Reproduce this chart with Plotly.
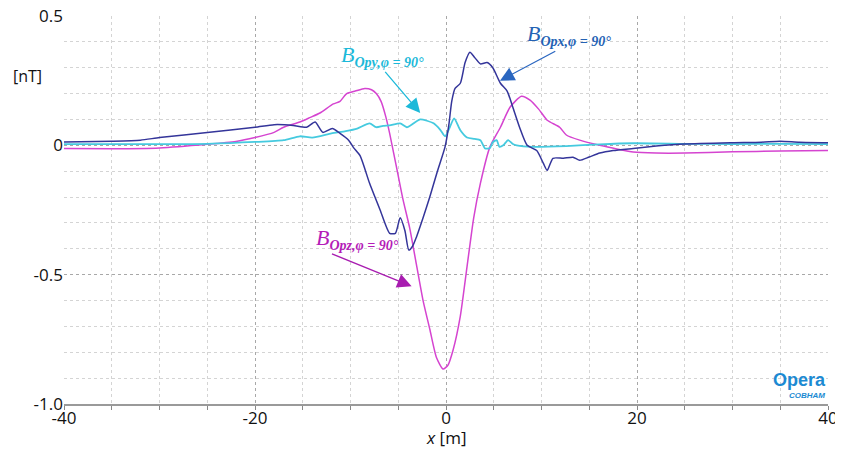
import plotly.graph_objects as go

# B_Opx (navy)
opx_x = [-40, -35, -32, -30, -25, -20, -18, -16, -14.6, -13.7, -12.9, -11.9, -11.1, -10.2, -9.7, -9.0, -8.0, -6.9,
         -5.9, -5.3, -4.8, -4.3, -3.9, -3.5, -3.1, -2.4, -1.7, -0.9, -0.1, 0.3, 0.6, 0.95, 1.5, 2.0, 2.5, 3.0,
         3.6, 4.3, 4.9, 5.7, 6.4, 7.0, 7.7, 8.5, 9.5, 10.2, 10.6, 11.2, 12.3, 13.3, 14.0, 15.0, 16.1, 17.5,
         19.6, 22, 25, 30, 33, 35, 37, 40]
opx_y = [0.013, 0.016, 0.02, 0.03, 0.05, 0.07, 0.08, 0.077, 0.07, 0.09, 0.05, 0.065, 0.046, 0.02, -0.008, -0.04,
         -0.147, -0.25, -0.34, -0.34, -0.28, -0.33, -0.405, -0.39, -0.355, -0.28, -0.2, -0.1, -0.006, 0.08, 0.17,
         0.22, 0.24, 0.32, 0.36, 0.34, 0.315, 0.32, 0.30, 0.24, 0.21, 0.147, 0.07, 0.0, -0.02, -0.07, -0.097,
         -0.05, -0.05, -0.046, -0.058, -0.045, -0.03, -0.02, -0.012, -0.003, 0.005, 0.01, 0.012, 0.016, 0.012, 0.01]

# B_Opz (magenta)
opz_x = [-40, -35, -30, -25, -22, -20, -18, -17, -15.3, -14.2, -13.2, -11.8, -11.1, -10.4, -9.5, -8.5, -7.8,
         -7.3, -6.8, -6.3, -5.9, -5.1, -4.5, -3.8, -3.1, -2.4, -1.7, -1.0, -0.3, 0.2, 0.75, 1.5, 2.2, 2.9, 3.6,
         4.6, 5.7, 6.7, 7.9, 8.8, 9.7, 10.6, 11.9, 12.6, 14.0, 16.1, 18, 19.6, 22, 25, 30, 35, 40]
opz_y = [-0.012, -0.013, -0.01, 0.004, 0.015, 0.03, 0.05, 0.07, 0.09, 0.108, 0.125, 0.16, 0.17, 0.2, 0.21, 0.22,
         0.215, 0.2, 0.17, 0.11, 0.046, -0.1, -0.21, -0.32, -0.46, -0.6, -0.71, -0.82, -0.865, -0.85, -0.79,
         -0.66, -0.47, -0.28, -0.147, -0.006, 0.07, 0.147, 0.19, 0.175, 0.14, 0.097, 0.07, 0.04, 0.02, 0.0,
         -0.015, -0.026, -0.03, -0.03, -0.025, -0.022, -0.02]

# B_Opy (cyan)
opy_x = [-40, -30, -25, -20, -17, -15.3, -14, -12, -10.5, -9.3, -8.0, -7.3, -6.6, -5.9, -4.8, -4.1, -3.4, -2.7,
         -2.0, -1.3, -0.6, -0.1, 0.4, 0.85, 1.5, 2.2, 3.0, 3.6, 4.1, 4.6, 4.9, 5.3, 5.6, 6.0, 6.5, 7.0, 7.4,
         9.1, 12.6, 16.1, 19.6, 25, 30, 35, 40]
opy_y = [0.005, 0.005, 0.006, 0.013, 0.02, 0.035, 0.03, 0.046, 0.055, 0.065, 0.085, 0.07, 0.075, 0.077, 0.085,
         0.07, 0.085, 0.1, 0.095, 0.085, 0.06, 0.035, 0.07, 0.104, 0.058, 0.03, 0.025, 0.02, -0.012, -0.01,
         0.012, 0.02, -0.006, 0.0, 0.02, 0.005, 0.0, -0.006, -0.003, 0.004, 0.008, 0.006, 0.005, 0.006, 0.005]

x_ticks = [-40, -20, 0, 20, 40]
y_ticks = [0.5, 0, -0.5, -1.0]
y_tick_labels = ["0.5", "0", "-0.5", "-1.0"]

C_NAVY = "#34359a"
C_MAG = "#d544d0"
C_CYAN = "#45cadf"

fig = go.Figure()
fig.add_trace(go.Scatter(x=opz_x, y=opz_y, mode="lines", line=dict(color=C_MAG, width=1.5, shape="spline", smoothing=0.6)))
fig.add_trace(go.Scatter(x=opy_x, y=opy_y, mode="lines", line=dict(color=C_CYAN, width=1.8, shape="spline", smoothing=0.6)))
fig.add_trace(go.Scatter(x=opx_x, y=opx_y, mode="lines", line=dict(color=C_NAVY, width=1.5, shape="spline", smoothing=0.6)))

serif = "Liberation Serif"

def label(x, y, name, color):
    fig.add_annotation(x=x, y=y, xref="x", yref="y", showarrow=False,
                       text="<i>B</i><sub><b><i><span style='font-size:14px'>" + name + ",φ = 90°</span></i></b></sub>",
                       font=dict(family=serif, size=22, color=color))

def arrow(hx, hy, tx, ty, color):
    fig.add_annotation(x=hx, y=hy, ax=tx, ay=ty, xref="x", yref="y", axref="x", ayref="y",
                       text="", showarrow=True, arrowhead=2, arrowsize=2.2, arrowwidth=1.3,
                       arrowcolor=color)

label(12.9, 0.425, "Opx", "#2462b4")
arrow(5.65, 0.25, 11.6, 0.367, "#2a66c0")
label(-6.7, 0.347, "Opy", "#1cb9d9")
arrow(-2.7, 0.125, -6.5, 0.29, "#1cb9d9")
label(-9.3, -0.363, "Opz", "#b41cb8")
arrow(-3.6, -0.545, -12.1, -0.417, "#a81cb0")

fig.add_annotation(x=-0.048, y=0.878, xref="paper", yref="paper", text="[nT]", showarrow=False,
                   font=dict(family="Open Sans", size=16, color="#111"), xanchor="center")
fig.add_annotation(x=0.5, y=-0.087, xref="paper", yref="paper", text="<i>x</i> [m]", showarrow=False,
                   yanchor="middle", font=dict(family="Open Sans", size=17, color="#111"))
fig.add_annotation(x=1.0, y=0.032, xref="paper", yref="paper", text="<b>Opera</b>", showarrow=False,
                   xanchor="right", yanchor="bottom", font=dict(family="Liberation Sans", size=18, color="#1c8ad2"))
fig.add_annotation(x=0.999, y=0.004, xref="paper", yref="paper", text="<b><i>COBHAM</i></b>", showarrow=False,
                   xanchor="right", yanchor="bottom", font=dict(family="Liberation Sans", size=8, color="#1c8ad2"))

fig.update_layout(
    width=835, height=444, margin=dict(l=56, r=15, t=8, b=48),
    paper_bgcolor="white", plot_bgcolor="white", showlegend=False,
    font=dict(family="Open Sans", size=17, color="#111"),
)
fig.update_xaxes(range=[-40, 40], tickvals=x_ticks, ticktext=[str(v) for v in x_ticks], automargin=False,
                 showgrid=True, gridcolor="#a8a8a8", griddash="dot", gridwidth=1,
                 ticks="outside", ticklen=4, tickcolor="#888", ticklabelstandoff=-6, ticklabeloverflow="allow",
                 minor=dict(dtick=5, tick0=0, showgrid=True, gridcolor="#d4d4d4", griddash="dot",
                            ticks="outside", ticklen=4, tickcolor="#888"),
                 showline=True, linecolor="#9a9a9a", linewidth=2, zeroline=False,
                 tickfont=dict(size=17))
fig.update_yaxes(range=[-1.0, 0.5], tickvals=y_ticks, ticktext=y_tick_labels, automargin=False,
                 ticklabeloverflow="allow",
                 showgrid=True, gridcolor="#a8a8a8", griddash="dot", gridwidth=1,
                 minor=dict(dtick=0.1, tick0=0, showgrid=True, gridcolor="#d4d4d4", griddash="dot"),
                 showline=False, zeroline=False, ticks="", tickfont=dict(size=17))

fig.write_html("out.html")
